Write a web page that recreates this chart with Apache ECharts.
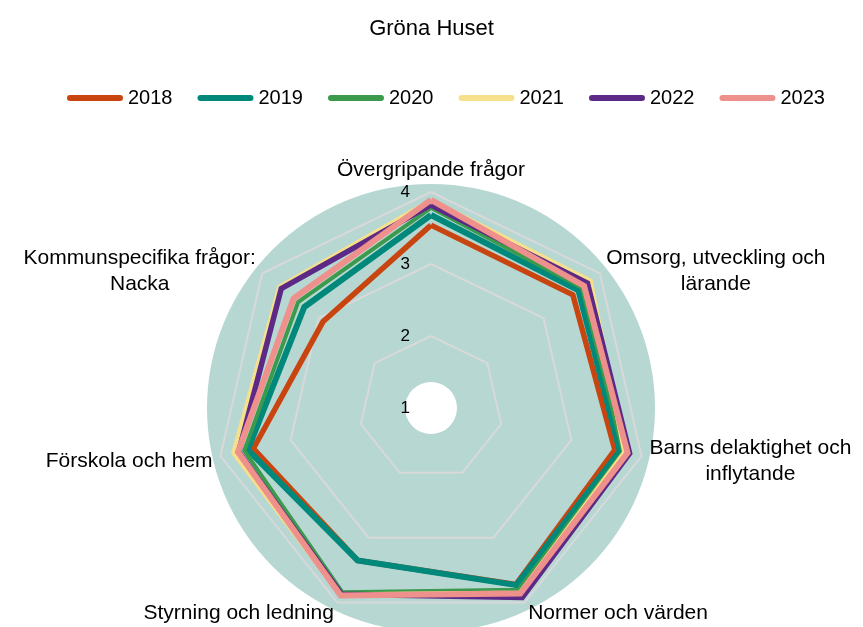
<!DOCTYPE html>
<html>
<head>
<meta charset="utf-8">
<script src="https://cdn.jsdelivr.net/npm/echarts@6.0.0/dist/echarts.min.js"></script>
<style>
  html, body { margin: 0; padding: 0; background: #fff; }
  #chart { width: 863px; height: 627px; }
</style>
</head>
<body>
<div id="chart"></div>
<script>
// categories, clockwise from the top
const indicators = [
  'Övergripande frågor',
  'Omsorg, utveckling och\nlärande',
  'Barns delaktighet och\ninflytande',
  'Normer och värden',
  'Styrning och ledning',
  'Förskola och hem',
  'Kommunspecifika frågor:\nNacka'
]
const years = ['2018', '2019', '2020', '2021', '2022', '2023']
const v2018 = [3.54, 3.52, 3.62, 3.72, 3.35, 3.53, 2.92]
const v2019 = [3.68, 3.62, 3.69, 3.73, 3.35, 3.61, 3.25]
const v2020 = [3.78, 3.68, 3.74, 3.80, 3.84, 3.66, 3.36]
const v2021 = [3.88, 3.83, 3.76, 3.85, 3.88, 3.81, 3.69]
const v2022 = [3.82, 3.78, 3.83, 3.92, 3.87, 3.74, 3.66]
const v2023 = [3.89, 3.72, 3.80, 3.86, 3.89, 3.75, 3.44]
const values = [v2018, v2019, v2020, v2021, v2022, v2023]

const colors = ['#c8450f', '#00897b', '#3b9a4c', '#f6e08c', '#5c2a86', '#ee918c']
const widths = [5.5, 6, 4, 5, 5.5, 6]

// echarts lays indicators out counter-clockwise, so reorder
const order = [0, 6, 5, 4, 3, 2, 1]

const font = 'Liberation Sans, Arial, sans-serif'
const center = [431, 408]

var myChart = echarts.init(document.getElementById('chart'))

// only the top axis carries the 1-4 labels
let indicatorList = order.map((i, k) => {
  let ind = { name: indicators[i], min: 1, max: 4 }
  if (k !== 0) ind.axisLabel = { show: false }
  return ind
})

let option = {
  animation: false,
  title: {
    text: 'Gröna Huset',
    left: 'center',
    top: 13,
    textStyle: { fontFamily: font, fontSize: 22, fontWeight: 'normal', color: '#000' }
  },
  legend: {
    data: years,
    left: 67,
    top: 88,
    padding: 0,
    itemGap: 25,
    itemWidth: 56,
    itemHeight: 6,
    icon: 'path://M3,0 L53,0 A3,3 0 0 1 53,6 L3,6 A3,3 0 0 1 3,0 Z',
    textStyle: { fontFamily: font, fontSize: 20, color: '#000' }
  },
  radar: {
    center: center,
    radius: 216,
    startAngle: 90,
    splitNumber: 3,
    shape: 'polygon',
    nameGap: 8,
    indicator: indicatorList,
    axisName: {
      color: '#000',
      fontFamily: font,
      fontSize: 21,
      lineHeight: 26,
      padding: [6, 0, 0, 0],
      formatter: function (name) {
        return name.split('\n').map(s => '{c|' + s + '}').join('\n')
      },
      rich: {
        c: { align: 'center', fontFamily: font, fontSize: 21, lineHeight: 26, color: '#000' }
      }
    },
    axisLine: { show: false },
    axisTick: { show: false },
    axisLabel: {
      show: true,
      color: '#000',
      fontFamily: font,
      fontSize: 17,
      margin: 21,
      padding: [6, 0, 0, 0]
    },
    splitLine: { lineStyle: { color: '#d9d9d9', width: 2 } },
    splitArea: { show: false }
  },
  series: [
    {
      type: 'pie',
      silent: true,
      z: -5,
      center: center,
      radius: [26, 224],
      label: { show: false },
      labelLine: { show: false },
      itemStyle: { color: '#b7d7d3' },
      data: [{ value: 1, name: 'bg' }]
    }
  ].concat(years.map((y, s) => ({
    type: 'radar',
    name: y,
    symbol: 'none',
    z: 2 + s,
    itemStyle: { color: colors[s] },
    lineStyle: { color: colors[s], width: widths[s], join: 'miter' },
    data: [{ name: y, value: order.map(i => values[s][i]) }]
  })))
}

myChart.setOption(option)
</script>
</body>
</html>
